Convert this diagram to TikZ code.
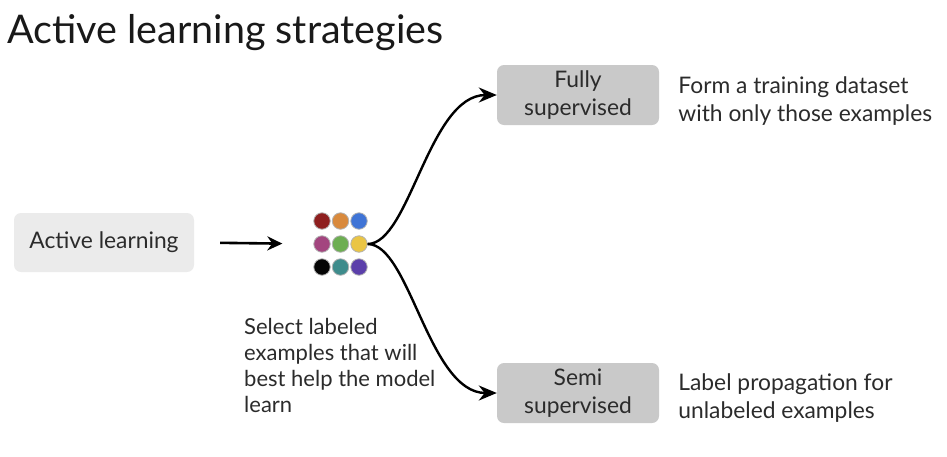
\documentclass[tikz,border=0pt]{standalone}
\usepackage{fontspec}
\setmainfont{Lato}
\usetikzlibrary{positioning,arrows.meta}

\definecolor{inkgray}{HTML}{2B2B2B}
\definecolor{boxlight}{HTML}{EBEBEB}
\definecolor{boxdark}{HTML}{C9C9C9}
% dot colours
\definecolor{dred}{HTML}{8E1F1F}
\definecolor{dorange}{HTML}{D98A3D}
\definecolor{dblue}{HTML}{3F74D6}
\definecolor{dplum}{HTML}{A3457F}
\definecolor{dgreen}{HTML}{6DAE52}
\definecolor{dyellow}{HTML}{EAC545}
\definecolor{dblack}{HTML}{050505}
\definecolor{dteal}{HTML}{3E8C8C}
\definecolor{dpurple}{HTML}{5B3FAA}

\begin{document}
\begin{tikzpicture}[x=1pt, y=-1pt, text=inkgray,
  font=\fontsize{22.8}{28}\selectfont,
  box/.style={rounded corners=7pt, minimum width=162pt, minimum height=60pt, align=center},
  dot/.style={circle, minimum size=16.5pt, inner sep=0pt, draw=gray!60, line width=0.8pt},
  link/.style={line width=2.4pt, -{Stealth[length=18pt,width=15pt]}}]
  \useasboundingbox (0,0) rectangle (947,456);

  \node[anchor=base west, inner sep=0pt, text=black!90, font=\fontsize{39.5}{44}\selectfont] (title) at (7,43) {Active learning strategies};

  \node[box, fill=boxlight, minimum width=180pt, minimum height=59pt] (active) at (104,242.5) {Active learning};

  % 3x3 grid of examples
  \foreach \c [count=\i from 0] in {dred,dorange,dblue,dplum,dgreen,dyellow,dblack,dteal,dpurple} {
    \pgfmathtruncatemacro{\col}{mod(\i,3)}
    \pgfmathtruncatemacro{\row}{int(\i/3)}
    \node[dot, fill=\c] (d\i) at (322+18.5*\col, 221+23*\row) {};
  }

  \node[box, fill=boxdark] (fully) at (578,95) {Fully\\supervised};
  \node[box, fill=boxdark] (semi) at (578,393) {Semi\\supervised};

  \node[right=19pt of fully, yshift=-6pt, inner sep=0pt, align=left] (fullytxt) {Form a training dataset\\with only those examples};
  \node[right=19pt of semi, yshift=-5pt, inner sep=0pt, align=left] (semitxt) {Label propagation for\\unlabeled examples};

  \node[anchor=north west, inner sep=0pt, align=left, font=\fontsize{22}{26}\selectfont] (select) at (244,318) {Select labeled\\examples that will\\best help the model\\learn};

  \draw[link, line width=2.6pt, -{Stealth[length=15pt,width=14pt]}, shorten <=26pt, shorten >=31pt] (active.east) -- (d3.west);
  \draw[link] (d5.east) .. controls +(42,0) and +(-68,0) .. (fully.west);
  \draw[link] (d5.east) .. controls +(42,0) and +(-68,0) .. (semi.west);

\end{tikzpicture}
\end{document}
